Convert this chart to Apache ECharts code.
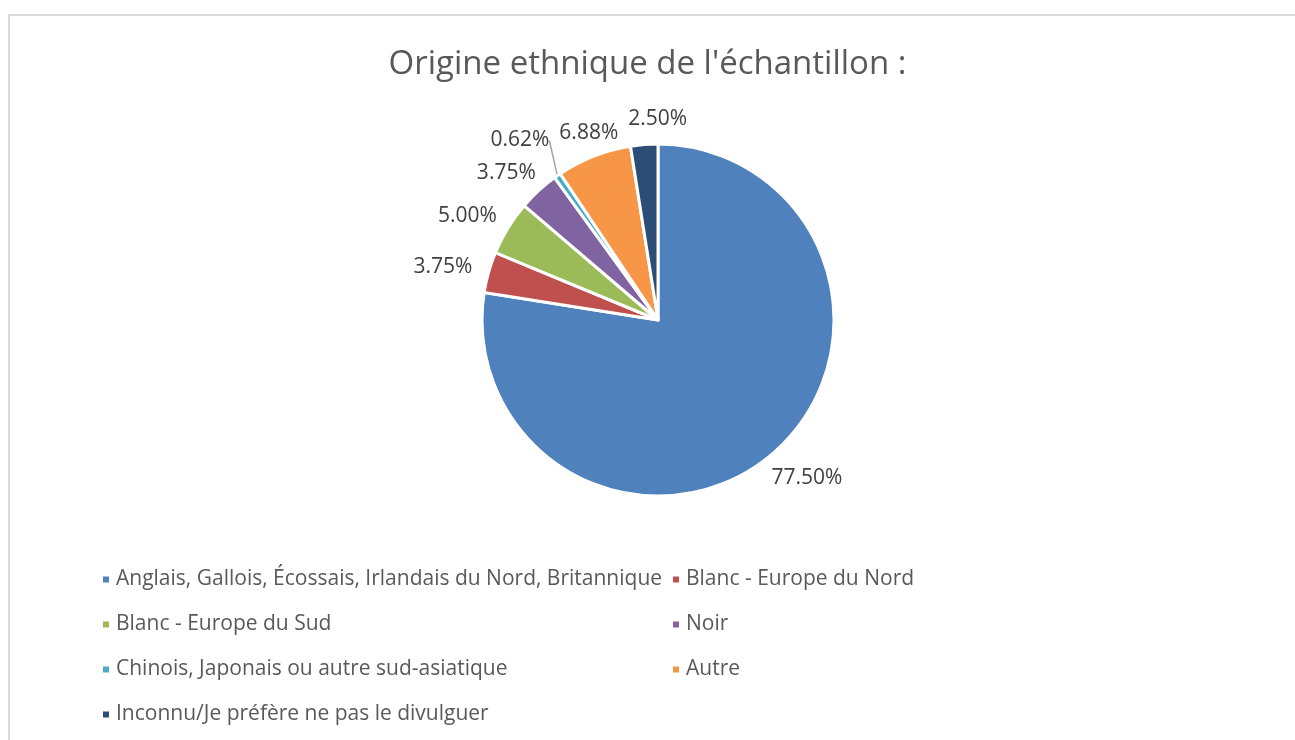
<!DOCTYPE html>
<html>
<head>
<meta charset="utf-8">
<title>Origine ethnique</title>
<script src="https://cdn.jsdelivr.net/npm/echarts@6/dist/echarts.min.js"></script>
<style>
  html, body { margin: 0; padding: 0; background: #fff; }
  #chart { width: 1295px; height: 740px; }
</style>
</head>
<body>
<div id="chart"></div>
<script>
// categories and values (percent)
var categories = [
  'Anglais, Gallois, Écossais, Irlandais du Nord, Britannique',
  'Blanc - Europe du Nord',
  'Blanc - Europe du Sud',
  'Noir',
  'Chinois, Japonais ou autre sud-asiatique',
  'Autre',
  'Inconnu/Je préfère ne pas le divulguer'
];
var values = [77.50, 3.75, 5.00, 3.75, 0.62, 6.88, 2.50];
var colors = ['#4F81BD', '#C0504D', '#9BBB59', '#8064A2', '#4BACC6', '#F79646', '#2C4D75'];

// legend columns (order as in the reference)
var legendLeft = [categories[0], categories[2], categories[4], categories[6]];
var legendRight = [categories[1], categories[3], categories[5]];

var FONT = '"Open Sans", Lato, sans-serif';
var TINY = 4; // the thin slice gets a visible leader line
var PIE_CY = 320;

var pieData = categories.map(function (name, i) {
  var item = { name: name, value: values[i], labelLine: { lineStyle: { opacity: 0 } } };
  if (i === TINY) {
    item.labelLine = { length: 36, lineStyle: { color: '#A6A6A6', width: 1.5, opacity: 1 } };
  }
  return item;
});

var chart = echarts.init(document.getElementById('chart'));

var legendBase = {
  orient: 'vertical',
  top: 569,
  padding: 0,
  itemWidth: 8,
  itemHeight: 8,
  icon: 'rect',
  itemGap: 24,
  textStyle: {
    fontFamily: FONT,
    fontSize: 21,
    lineHeight: 21,
    color: '#595959',
    padding: [0, 0, 0, 1]
  }
};

// labels already placed (clockwise sweep), to push crowded ones apart
var placed = [];

function overlap(a, b) {
  return a.x < b.x + b.w && b.x < a.x + a.w && a.y < b.y + b.h && b.y < a.y + a.h;
}

var option = {
  backgroundColor: '#fff',
  color: colors,
  animation: false,
  title: {
    text: "Origine ethnique de l'échantillon :",
    left: 'center',
    top: 43,
    textStyle: {
      fontFamily: FONT,
      fontSize: 33,
      fontWeight: 'normal',
      color: '#595959'
    }
  },
  graphic: [{
    type: 'rect',
    shape: { x: 9, y: 15, width: 1300, height: 740 },
    style: { fill: 'none', stroke: '#D9D9D9', lineWidth: 2 },
    silent: true
  }],
  legend: [
    Object.assign({}, legendBase, { left: 101, data: legendLeft }),
    Object.assign({}, legendBase, { left: 671, data: legendRight })
  ],
  series: [{
    type: 'pie',
    center: [658, PIE_CY],
    radius: 176,
    startAngle: 90,
    clockwise: true,
    avoidLabelOverlap: false,
    itemStyle: {
      borderColor: '#fff',
      borderWidth: 3
    },
    label: {
      show: true,
      position: 'outside',
      fontFamily: FONT,
      fontSize: 21,
      color: '#404040',
      formatter: function (p) {
        return p.value.toFixed(2) + '%';
      }
    },
    labelLine: {
      show: true,
      length: 18,
      length2: 0
    },
    // put label box just outside the edge, along the slice direction
    labelLayout: function (p) {
      var pts = p.labelLinePoints;
      if (!pts) return {};
      if (p.dataIndex === 0) placed = [];
      var dx = pts[1][0] - pts[0][0];
      var dy = pts[1][1] - pts[0][1];
      var len = Math.sqrt(dx * dx + dy * dy) || 1;
      dx /= len; dy /= len;
      var w = p.labelRect.width, h = p.labelRect.height;
      var cx = pts[1][0] + dx * w / 2;
      var cy = pts[1][1] + dy * h / 2 + 3;
      var r = { x: cx - w / 2, y: cy - h / 2, w: w, h: h };
      // upper half: slide to the right past the previous label
      placed.forEach(function (q) {
        if (cy < PIE_CY && overlap(r, q)) r.x = q.x + q.w + 10;
      });
      placed.push(r);
      return {
        x: r.x + w / 2,
        y: cy,
        align: 'center',
        verticalAlign: 'middle'
      };
    },
    data: pieData
  }]
};

chart.setOption(option);
</script>
</body>
</html>
